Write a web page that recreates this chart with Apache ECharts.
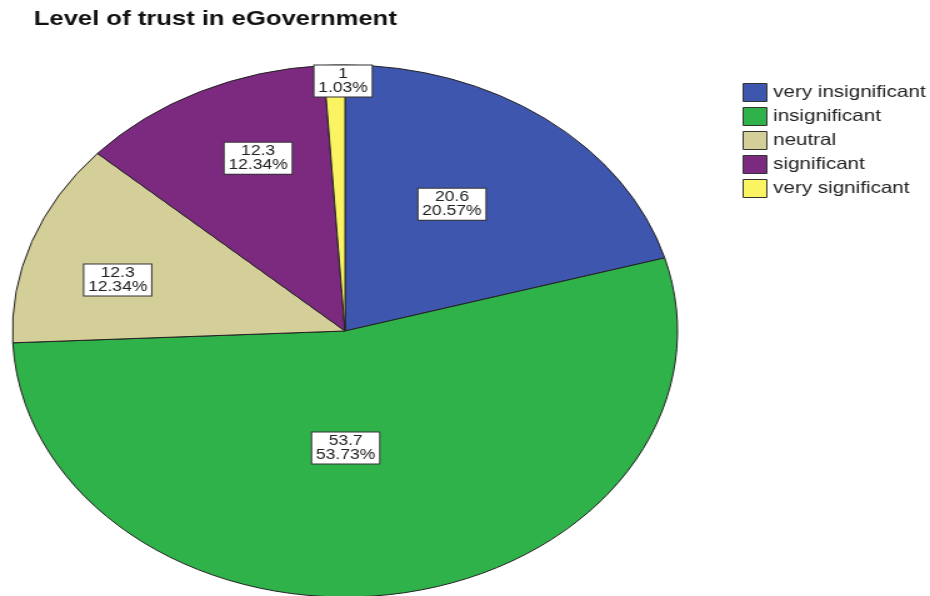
<!DOCTYPE html>
<html>
<head>
<meta charset="utf-8">
<title>Level of trust in eGovernment</title>
<script src="https://cdn.jsdelivr.net/npm/echarts@6/dist/echarts.min.js"></script>
<style>
  html, body { margin: 0; padding: 0; background: #fff; overflow: hidden; }
  /* source image is horizontally stretched, so draw narrow and stretch */
  #pieChart { width: 744px; height: 596px; transform: scaleX(1.25); transform-origin: 0 0; }
</style>
</head>
<body>
<div id="pieChart"></div>
<script>
// data
var categories = ["very insignificant", "insignificant", "neutral", "significant", "very significant"];
var shownValues = [20.6, 53.7, 12.3, 12.3, 1];
var percents = [20.57, 53.73, 12.34, 12.34, 1.03];

var colors = ["#3e56ad", "#30b24a", "#d4ce98", "#7b2a7f", "#fbf462"];
// label placement: fraction of radius, and turn (deg) from slice middle
var labelRadius = [0.575, 0.44, 0.71, 0.70, 0.94];
var labelTurn = [-3, 9, -4, 4, 1.5];

var center = [276, 331];
var radius = 266;

var chart = echarts.init(document.getElementById("pieChart"));

var total = percents.reduce(function (a, b) { return a + b; }, 0);
var midAngles = [];
var acc = 0;
for (var i = 0; i < percents.length; i++) {
  midAngles.push((acc + percents[i] / 2) / total * 2 * Math.PI);
  acc += percents[i];
}

var option = {
  animation: false,
  color: colors,
  textStyle: { fontFamily: "Liberation Sans, Arial, sans-serif" },
  title: {
    text: "Level of trust in eGovernment",
    left: 27,
    top: 9,
    padding: 0,
    textStyle: { fontSize: 20.5, fontWeight: "bold", color: "#111" }
  },
  legend: {
    orient: "vertical",
    left: 594,
    top: 83,
    padding: 0,
    itemWidth: 19,
    itemHeight: 18,
    itemGap: 5,
    icon: "rect",
    data: categories,
    itemStyle: { borderColor: "#333", borderWidth: 1 },
    textStyle: { fontSize: 16.5, color: "#222" }
  },
  series: [
    {
      type: "pie",
      center: center,
      radius: radius,
      startAngle: 90,
      clockwise: true,
      avoidLabelOverlap: false,
      itemStyle: { borderColor: "#222", borderWidth: 1 },
      emphasis: { disabled: true },
      label: {
        show: true,
        position: "inside",
        formatter: function (p) {
          return shownValues[p.dataIndex] + "\n" + percents[p.dataIndex].toFixed(2) + "%";
        },
        fontSize: 14,
        lineHeight: 14,
        color: "#222",
        align: "center",
        backgroundColor: "#fff",
        borderColor: "#333",
        borderWidth: 1,
        padding: [2, 3, 1, 3]
      },
      labelLayout: function (params) {
        var k = params.dataIndex;
        var a = midAngles[k] + labelTurn[k] * Math.PI / 180;
        var r = radius * labelRadius[k];
        return {
          x: center[0] + r * Math.sin(a),
          y: center[1] - r * Math.cos(a),
          align: "center",
          verticalAlign: "middle"
        };
      },
      data: categories.map(function (name, idx) {
        return { name: name, value: percents[idx] };
      })
    }
  ]
};

chart.setOption(option);
</script>
</body>
</html>
